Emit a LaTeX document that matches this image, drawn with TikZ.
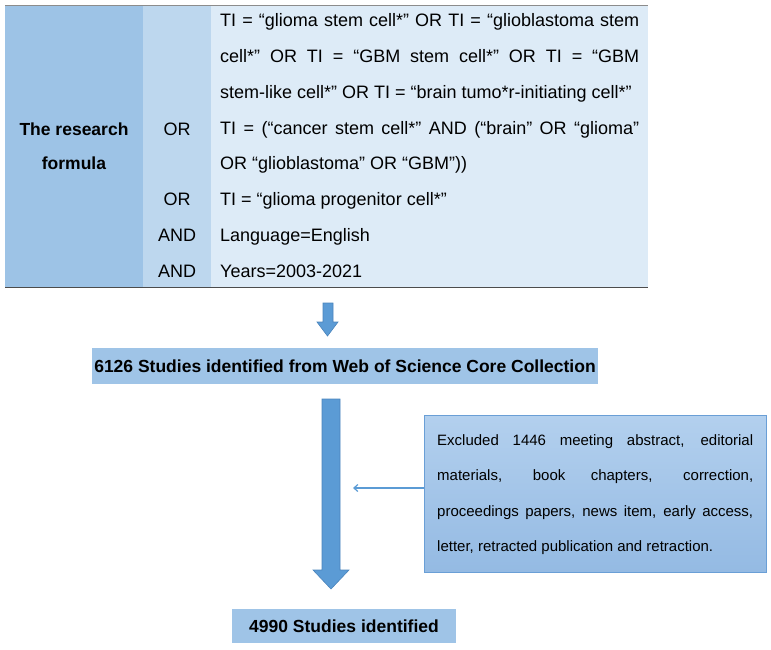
\documentclass[tikz,border=0pt]{standalone}
\usepackage{fontspec}
\setmainfont{Liberation Sans}
\usetikzlibrary{arrows.meta}
\definecolor{colA}{HTML}{9DC3E6}
\definecolor{colB}{HTML}{BDD7EE}
\definecolor{colC}{HTML}{DDEBF7}
\definecolor{boxfill}{HTML}{9FC4E7}
\definecolor{arrfill}{HTML}{5B9BD5}
\definecolor{arrline}{HTML}{4A84BC}
\definecolor{exclTop}{HTML}{B3D0EE}
\definecolor{exclBot}{HTML}{94BAE3}
\definecolor{exclLine}{HTML}{6A9FD6}
\tikzset{
  bigtxt/.style={font=\fontsize{18}{21}\selectfont, inner sep=0pt, anchor=base},
  boldtxt/.style={font=\fontsize{17.5}{21}\selectfont\bfseries, inner sep=0pt, anchor=base},
  leftbig/.style={font=\fontsize{18}{21}\selectfont, inner sep=0pt, anchor=base west},
  smalltxt/.style={font=\fontsize{15}{18}\selectfont, inner sep=0pt, anchor=base west},
  bluebox/.style={fill=boxfill, draw=none, inner sep=0pt},
  blockarrow/.style={fill=arrfill, draw=arrline, line width=0.6pt},
}
\begin{document}
\begin{tikzpicture}[x=1pt,y=-1pt]
\useasboundingbox (0,0) rectangle (771,649);
% table cells
\fill[colA] (5,5) rectangle (143,287);
\fill[colB] (143,5) rectangle (211,287);
\fill[colC] (211,5) rectangle (648,287);
\draw[color=black!45, line width=0.8pt] (5,5) -- (648,5);
\draw[color=black!70, line width=1.2pt] (5,287.5) -- (648,287.5);
\node (tbl) [inner sep=0pt, minimum width=643pt, minimum height=282pt] at (326.5,146) {};
% column 1
\node (c1a) [boldtxt] at (74,135) {The research};
\node (c1b) [boldtxt] at (74,169) {formula};
% column 2
\node (op1) [bigtxt] at (177,135) {OR};
\node (op2) [bigtxt] at (177,205) {OR};
\node (op3) [bigtxt] at (177,241) {AND};
\node (op4) [bigtxt] at (177,277) {AND};
% column 3
\node (l1) [leftbig] at (220,26) {\makebox[419pt][s]{TI = “glioma stem cell*” OR TI = “glioblastoma stem}};
\node (l2) [leftbig] at (220,62) {\makebox[419pt][s]{cell*” OR TI = “GBM stem cell*” OR TI = “GBM}};
\node (l3) [leftbig] at (220,98) {stem-like cell*” OR TI = “brain tumo*r-initiating cell*”};
\node (l4) [leftbig] at (220,134) {\makebox[419pt][s]{TI = (“cancer stem cell*” AND (“brain” OR “glioma”}};
\node (l5) [leftbig] at (220,169) {OR “glioblastoma” OR “GBM”))};
\node (l6) [leftbig] at (220,205) {TI = “glioma progenitor cell*”};
\node (l7) [leftbig] at (220,241) {Language=English};
\node (l8) [leftbig] at (220,277) {Years=2003-2021};
% small block arrow
\draw[blockarrow] (323,303) -- (333,303) -- (333,322) -- (338,322) -- (327.5,336) -- (317,322) -- (323,322) -- cycle;
% box 1
\node (s1) [bluebox, minimum width=506pt, minimum height=36pt] at (345,366) {};
\node (s1t) [boldtxt] at (345,372.5) {6126 Studies identified from Web of Science Core Collection};
% big block arrow
\draw[blockarrow] (322,399) -- (340,399) -- (340,570) -- (349,570) -- (331,589) -- (313,570) -- (322,570) -- cycle;
% excluded box
\node (ex) [top color=exclTop, bottom color=exclBot, draw=exclLine, line width=0.8pt, minimum width=342pt, minimum height=157pt, inner sep=0pt] at (595,493.5) {};
\node (e1) [smalltxt] at (437,445.5) {\makebox[316pt][s]{Excluded 1446 meeting abstract, editorial}};
\node (e2) [smalltxt] at (437,480.5) {\makebox[316pt][s]{materials, book chapters, correction,}};
\node (e3) [smalltxt] at (437,516.5) {\makebox[316pt][s]{proceedings papers, news item, early access,}};
\node (e4) [smalltxt] at (437,551.5) {letter, retracted publication and retraction.};
\coordinate (tip) at (353,488);
\draw[color=arrfill, line width=1.2pt, -{Straight Barb[length=4pt,width=7pt]}] (ex.west |- tip) -- (tip);
% box 2
\node (s2) [bluebox, minimum width=224pt, minimum height=34pt] at (344,626) {};
\node (s2t) [boldtxt] at (344,632.5) {4990 Studies identified};
\end{tikzpicture}
\end{document}
